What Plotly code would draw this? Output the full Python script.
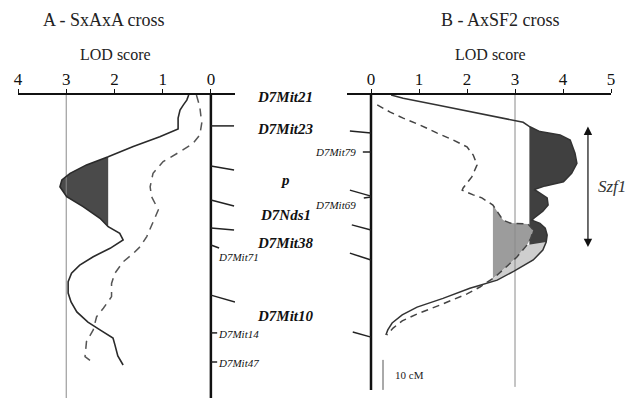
import plotly.graph_objects as go

# ---------------- data ----------------
# Panel A (SxAxA cross): LOD score vs map position (cM from D7Mit21)
a_solid_lod = [0.46, 0.50, 0.57, 0.64, 0.68, 0.68, 1.06, 1.61, 2.13, 2.58, 2.92, 3.09, 3.13, 2.99,
               2.65, 2.30, 2.13, 1.89, 1.82, 2.09, 2.44, 2.72, 2.89, 2.96, 2.96, 2.90, 2.78, 2.55,
               2.30, 2.03, 1.99, 1.93, 1.82]
a_solid_cm = [0, 1.7, 3.3, 5, 7.7, 11.3, 13.9, 17.2, 20.6, 23.3, 26.1, 28.3, 30.6, 33.9,
              37.2, 41.1, 43.9, 46.1, 48.3, 51.1, 53.9, 56.7, 59.4, 62.2, 66, 69, 72.3, 75.7,
              78.3, 81, 83.3, 87, 90]
a_dash_lod = [0.30, 0.23, 0.19, 0.23, 0.37, 0.64, 0.99, 1.20, 1.26, 1.23, 1.09, 1.20, 1.33, 1.47,
              1.61, 1.82, 1.99, 2.06, 2.06, 2.23, 2.37, 2.44, 2.58, 2.61, 2.47]
a_dash_cm = [0, 3.9, 9.4, 13.3, 16.1, 18.9, 22.2, 26.1, 30.6, 33.9, 38.3, 42.2, 47.2, 50.6,
             52.8, 55.6, 59.4, 62.8, 67.2, 71.1, 73.9, 78.3, 82.2, 87.2, 88.9]

# Panel B (AxSF2 cross)
b_solid_lod = [0.42, 0.67, 1.38, 2.06, 2.75, 3.17, 3.31, 3.52, 3.94, 4.15, 4.25, 4.29, 4.18, 4.01,
               3.63, 3.40, 3.52, 3.67, 3.69, 3.58, 3.40, 3.35, 3.52, 3.63, 3.67, 3.65, 3.58, 3.38,
               2.98, 2.63, 2.06, 1.50, 0.96, 0.65, 0.44, 0.35, 0.31]
b_solid_cm = [0, 1.1, 3.3, 5.6, 7.8, 9.1, 10.6, 12.2, 13.3, 15, 19.4, 22.8, 26.1, 28.9,
              30.3, 31.5, 32.7, 34.3, 36.7, 38.7, 41, 41.7, 42.8, 44.4, 46.7, 49, 51.7, 55,
              58.7, 61.7, 64.4, 67.8, 70.7, 73.3, 76, 78.3, 80]
b_dash_lod = [0.13, 0.40, 0.67, 1.02, 1.38, 1.71, 2.00, 2.13, 2.21, 2.10, 1.92, 1.90, 2.13, 2.31,
              2.54, 2.65, 2.75, 2.90, 3.27, 3.38, 3.33, 3.25, 3.04, 2.75, 2.58, 2.27, 2.00, 1.44,
              0.96, 0.65, 0.46, 0.33]
b_dash_cm = [3.3, 5.7, 7.7, 10, 12.7, 15, 17.3, 20, 23.3, 27.3, 31, 31.7, 33.3, 34.3,
             36.7, 39.3, 41.7, 42.7, 43, 45, 47.7, 50, 54, 58.3, 60.7, 64, 66.3, 70,
             73, 75.3, 77.7, 80]

# markers of the central map (cM)
main_markers = ["D7Mit21", "D7Mit23", "p", "D7Nds1", "D7Mit38", "D7Mit10"]
main_marker_cm = [0.7, 11.3, 28.3, 40, 49.3, 73.7]
a_minor_markers = ["D7Mit71", "D7Mit14", "D7Mit47"]
a_minor_cm = [54, 79.7, 89.3]
b_minor_markers = ["D7Mit79", "D7Mit69"]
b_minor_cm = [19, 36.7]

# linking ticks: (cM on the map line, cM at the outer end)
a_link_map_cm = [10.3, 23.7, 35, 44.3, 50, 66.7, 79.3, 89]
a_link_end_cm = [10.3, 25, 37, 45, 51, 69, 79.3, 89]
b_link_map_cm = [12.7, 19, 33.7, 34, 45, 55, 80.7]
b_link_end_cm = [12, 19, 31.7, 34.3, 43.3, 52.7, 79]

lod_ticks = [0, 1, 2, 3, 4, 5]
a_threshold = 2.13
b_threshold_dark = 3.3
b_threshold_grey = 2.54
szf1_cm = [10, 50.7]
scale_cm = [88.3, 98.3]

# ---------------- helpers ----------------
W, H, TOP = 628, 398, 95
SERIF = "Liberation Serif"


def pxx(px):
    return px / W


def pxy(py):
    return 1 - (py - TOP) / (H - TOP)


def fill_above(lod, cm, thr, lo=-1e9, hi=1e9):
    pts = list(zip(lod, cm))
    segs, cur = [], None
    for i, (x, y) in enumerate(pts):
        above = x >= thr and lo <= y <= hi
        if above:
            if cur is None:
                cur = []
                if i > 0 and pts[i - 1][0] < thr:
                    x0, y0 = pts[i - 1]
                    t = (thr - x0) / (x - x0)
                    cur.append((thr, y0 + t * (y - y0)))
                else:
                    cur.append((thr, y))
            cur.append((x, y))
        elif cur is not None:
            x0, y0 = pts[i - 1]
            if x < thr:
                t = (x0 - thr) / (x0 - x)
                cur.append((thr, y0 + t * (y - y0)))
            else:
                cur.append((thr, y0))
            segs.append(cur)
            cur = None
    if cur:
        cur.append((thr, cur[-1][1]))
        segs.append(cur)
    xs, ys = [], []
    for s in segs:
        xs += [p[0] for p in s] + [None]
        ys += [p[1] for p in s] + [None]
    return xs, ys


fig = go.Figure()

# fills
xs, ys = fill_above(a_solid_lod, a_solid_cm, a_threshold, 15, 45)
fig.add_trace(go.Scatter(x=xs, y=ys, fill="toself", fillcolor="#4a4a4a", line=dict(width=0),
                         mode="lines", xaxis="x", yaxis="y", hoverinfo="skip"))
xs, ys = fill_above(b_solid_lod, b_solid_cm, b_threshold_dark)
fig.add_trace(go.Scatter(x=xs, y=ys, fill="toself", fillcolor="#404040", line=dict(width=0),
                         mode="lines", xaxis="x2", yaxis="y", hoverinfo="skip"))
xs, ys = fill_above(b_dash_lod, b_dash_cm, b_threshold_grey)
fig.add_trace(go.Scatter(x=xs, y=ys, fill="toself", fillcolor="#9c9c9c", line=dict(width=0),
                         mode="lines", xaxis="x2", yaxis="y", hoverinfo="skip"))
# light band between the two B curves
band_x = [l for l, c in zip(b_solid_lod, b_solid_cm) if 49 <= c <= 64.5]
band_y = [c for c in b_solid_cm if 49 <= c <= 64.5]
band_x += [l for l, c in zip(b_dash_lod, b_dash_cm) if 49 <= c <= 64.5][::-1]
band_y += [c for c in b_dash_cm if 49 <= c <= 64.5][::-1]
fig.add_trace(go.Scatter(x=band_x, y=band_y, fill="toself", fillcolor="#cfcfcf", line=dict(width=0),
                         mode="lines", xaxis="x2", yaxis="y", hoverinfo="skip"))

# LOD 3 reference lines
fig.add_trace(go.Scatter(x=[3, 3], y=[0, 101], mode="lines", line=dict(color="#8a8a8a", width=1),
                         xaxis="x", yaxis="y"))
fig.add_trace(go.Scatter(x=[3, 3], y=[0, 97.3], mode="lines", line=dict(color="#8a8a8a", width=1),
                         xaxis="x2", yaxis="y"))
# map lines (LOD 0)
fig.add_trace(go.Scatter(x=[0, 0], y=[0, 101], mode="lines", line=dict(color="#111", width=2.5),
                         xaxis="x", yaxis="y"))
fig.add_trace(go.Scatter(x=[0, 0], y=[0, 98.3], mode="lines", line=dict(color="#111", width=2.5),
                         xaxis="x2", yaxis="y"))

# link ticks
a_len = [-0.48, -0.48, -0.48, -0.48, -0.17, -0.5, -0.13, -0.13]
for m, e, ln in zip(a_link_map_cm, a_link_end_cm, a_len):
    fig.add_trace(go.Scatter(x=[0, ln], y=[m, e], mode="lines", line=dict(color="#222", width=1.5),
                             xaxis="x", yaxis="y"))
b_len = [-0.44, -0.17, -0.44, -0.15, -0.40, -0.44, -0.38]
for m, e, ln in zip(b_link_map_cm, b_link_end_cm, b_len):
    fig.add_trace(go.Scatter(x=[0, ln], y=[m, e], mode="lines", line=dict(color="#222", width=1.5),
                             xaxis="x2", yaxis="y"))

# curves
fig.add_trace(go.Scatter(x=a_solid_lod, y=a_solid_cm, mode="lines", line=dict(color="#2a2a2a", width=1.6),
                         xaxis="x", yaxis="y"))
fig.add_trace(go.Scatter(x=a_dash_lod, y=a_dash_cm, mode="lines",
                         line=dict(color="#555", width=1.5, dash="8px,6px"), xaxis="x", yaxis="y"))
fig.add_trace(go.Scatter(x=b_solid_lod, y=b_solid_cm, mode="lines", line=dict(color="#333", width=1.5),
                         xaxis="x2", yaxis="y"))
fig.add_trace(go.Scatter(x=b_dash_lod, y=b_dash_cm, mode="lines",
                         line=dict(color="#444", width=1.5, dash="7px,5px"), xaxis="x2", yaxis="y"))

# scale bar
fig.add_trace(go.Scatter(x=[0.25, 0.25], y=scale_cm, mode="lines", line=dict(color="#555", width=1),
                         xaxis="x2", yaxis="y"))


def note(text, x, y, xref="paper", yref="paper", size=16, xanchor="center", color="#222"):
    return dict(text=text, x=x, y=y, xref=xref, yref=yref, showarrow=False, xanchor=xanchor,
                yanchor="middle", font=dict(family=SERIF, size=size, color=color))


ann = [
    note("A - SxAxA cross", pxx(104), pxy(20), size=18),
    note("B - AxSF2 cross", pxx(500), pxy(20), size=18),
    note("LOD score", pxx(116), pxy(55), size=16),
    note("LOD score", pxx(490), pxy(55), size=16),
]
for name, cm in zip(main_markers, main_marker_cm):
    ann.append(note("<b><i>%s</i></b>" % name, pxx(285), cm, yref="y", size=15, color="#111"))
for name, cm in zip(a_minor_markers, a_minor_cm):
    ann.append(note("<i>%s</i>" % name, pxx(216), cm, yref="y", size=11, xanchor="left", color="#111"))
for name, cm in zip(b_minor_markers, b_minor_cm):
    ann.append(note("<i>%s</i>" % name, pxx(358), cm, yref="y", size=11, xanchor="right", color="#111"))
ann.append(note("10 cM", 0.45, (scale_cm[0] + scale_cm[1]) / 2, xref="x2", yref="y", size=11,
                xanchor="left"))
ann.append(dict(text="", x=4.52, y=szf1_cm[1], ax=4.52, ay=szf1_cm[0], xref="x2", yref="y",
                axref="x2", ayref="y", showarrow=True, arrowhead=2, startarrowhead=2,
                arrowside="end+start", arrowsize=1.4, arrowwidth=1.2, arrowcolor="#111"))
ann.append(note("<i>Szf1</i>", pxx(612), (szf1_cm[0] + szf1_cm[1]) / 2, yref="y", size=17, color="#333"))

axis_common = dict(side="top", anchor="y", showline=True, linewidth=2, linecolor="#111",
                   ticks="outside", ticklen=4, tickwidth=1, tickcolor="#111", showgrid=False,
                   ticklabelstandoff=-3,
                   zeroline=False, tickfont=dict(family=SERIF, size=17, color="#111"))
fig.update_layout(
    width=W, height=H, margin=dict(l=0, r=0, t=TOP, b=0, autoexpand=False),
    paper_bgcolor="white", plot_bgcolor="white", showlegend=False,
    xaxis=dict(domain=[pxx(18), pxx(235)], range=[4, -0.5], tickvals=lod_ticks[:5], **axis_common),
    xaxis2=dict(domain=[pxx(347), pxx(611)], range=[-0.5, 5], tickvals=lod_ticks, **axis_common),
    yaxis=dict(range=[101, 0], visible=False, domain=[0, 1]),
    annotations=ann,
)
fig.write_html("out.html", config={"displayModeBar": False},
               post_script="document.body.style.margin='0px';")
